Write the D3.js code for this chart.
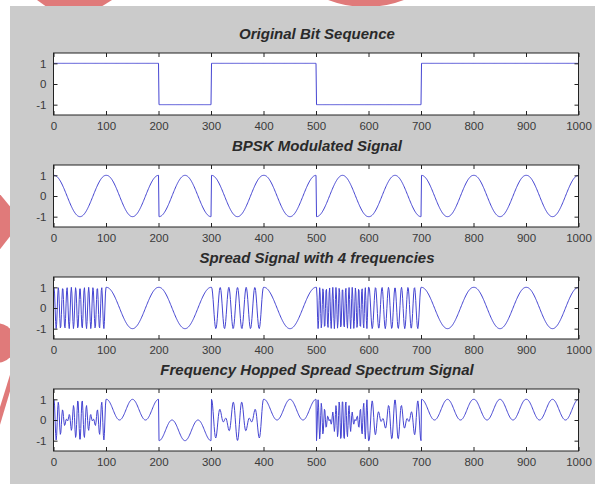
<!DOCTYPE html>
<html>
<head>
<meta charset="utf-8">
<script src="https://cdn.jsdelivr.net/npm/d3@7"></script>
<style>
body { margin: 0; background: #fff; }
svg { display: block; }
</style>
</head>
<body>
<svg id="chart" width="595" height="484"></svg>
<script>
// Bit per 100-sample slot, and carrier cycles per slot used by the hopper
var bits = [1, 1, -1, 1, 1, -1, -1, 1, 1, 1];
var hopCycles = [12, 1, 1, 6, 1, 16, 8, 1, 1, 1];
var samplesPerBit = 100;

var titles = [
    'Original Bit Sequence',
    'BPSK Modulated Signal',
    'Spread Signal with 4 frequencies',
    'Frequency Hopped Spread Spectrum Signal'
];
var xTicks = [0, 100, 200, 300, 400, 500, 600, 700, 800, 900, 1000];
var yTicks = [-1, 0, 1];
var xDomain = [0, 1000];
var yDomain = [-1.5, 1.5];

var svg = d3.select('#chart');
var plotLeft = 53.5;
var plotRight = 578.5;
var plotHeight = 62;
var firstTop = 53;
var plotStep = 112;

var xScale = d3.scaleLinear().domain(xDomain).range([plotLeft, plotRight]);
var plainLabel = function(d) { return String(d); };


/* Signals */
function buildSignals() {
    var bitSeq = [], bpsk = [], spread = [], hopped = [];

    bits.forEach(function(b, k) {
        for (var n = 0; n < samplesPerBit; n++) {
            var t = 2 * Math.PI * n / (samplesPerBit - 1);
            var i = k * samplesPerBit + n + 1;
            var carrier = Math.cos(t);
            var hop = Math.cos(hopCycles[k] * t);
            bitSeq.push({ i: i, v: b });
            bpsk.push({ i: i, v: b * carrier });
            spread.push({ i: i, v: hop });
            hopped.push({ i: i, v: b * carrier * hop });
        }
    });

    return [bitSeq, bpsk, spread, hopped];
}


/* Background */
function drawBackground() {
    // pink shapes peeking out behind the figure
    var pink = '#e07a7a';
    svg.append('polygon')
        .attr('points', '30,-5 120,-5 72,25')
        .style('fill', pink);
    svg.append('circle')
        .attr('cx', 366).attr('cy', -99).attr('r', 106)
        .style('fill', pink);
    svg.append('polygon')
        .attr('points', '-10,182 22,221 -10,262')
        .style('fill', pink);
    svg.append('circle')
        .attr('cx', -4).attr('cy', 343).attr('r', 20)
        .style('fill', pink);
    svg.append('polygon')
        .attr('points', '14,362 14,378 -4,438 -4,420')
        .style('fill', pink);

    svg.append('rect')
        .attr('x', 10).attr('y', 6)
        .attr('width', 600).attr('height', 490)
        .style('fill', '#cbcbcb');
}


/* Subplots */
function drawPanel(data, idx) {
    var top = firstTop + idx * plotStep;
    var yScale = d3.scaleLinear().domain(yDomain).range([top + plotHeight, top]);
    var g = svg.append('g').attr('class', 'panel');

    g.append('rect')
        .attr('x', plotLeft).attr('y', top)
        .attr('width', plotRight - plotLeft).attr('height', plotHeight)
        .style('fill', '#fff');

    var line = d3.line()
        .x(function(d) { return xScale(d.i); })
        .y(function(d) { return yScale(d.v); });

    g.append('path')
        .datum(data)
        .attr('d', line)
        .style('fill', 'none')
        .style('stroke', '#4545d2')
        .style('stroke-width', 1)
        .style('stroke-linejoin', 'round');

    // inward ticks on all four sides, like a boxed matlab axes
    var tickLen = 4;
    g.append('g')
        .attr('transform', 'translate(0,' + (top + plotHeight) + ')')
        .call(d3.axisBottom(xScale).tickValues(xTicks).tickFormat(plainLabel)
            .tickSizeInner(-tickLen).tickSizeOuter(0).tickPadding(7));
    g.append('g')
        .attr('transform', 'translate(0,' + top + ')')
        .call(d3.axisTop(xScale).tickValues(xTicks).tickFormat('')
            .tickSizeInner(-tickLen).tickSizeOuter(0));
    g.append('g')
        .attr('transform', 'translate(' + plotLeft + ',0)')
        .call(d3.axisLeft(yScale).tickValues(yTicks).tickFormat(plainLabel)
            .tickSizeInner(-tickLen).tickSizeOuter(0).tickPadding(7));
    g.append('g')
        .attr('transform', 'translate(' + plotRight + ',0)')
        .call(d3.axisRight(yScale).tickValues(yTicks).tickFormat('')
            .tickSizeInner(-tickLen).tickSizeOuter(0));

    g.selectAll('.domain').remove();
    g.selectAll('.tick line').style('stroke', '#222');
    g.selectAll('.tick text')
        .style('font-family', '"Liberation Sans", Arial, sans-serif')
        .style('font-size', '11.5px')
        .style('fill', '#3a3a3a');

    g.append('rect')
        .attr('x', plotLeft).attr('y', top)
        .attr('width', plotRight - plotLeft).attr('height', plotHeight)
        .style('fill', 'none')
        .style('stroke', '#222')
        .style('stroke-width', 1);

    g.append('text')
        .attr('x', 317)
        .attr('y', top - 14)
        .attr('text-anchor', 'middle')
        .style('font-family', '"Liberation Sans", Arial, sans-serif')
        .style('font-size', '15px')
        .style('font-weight', 'bold')
        .style('font-style', 'italic')
        .style('fill', '#2a2a2a')
        .text(titles[idx]);
}

function updateChart() {
    drawBackground();
    buildSignals().forEach(drawPanel);
}

updateChart();
</script>
</body>
</html>
